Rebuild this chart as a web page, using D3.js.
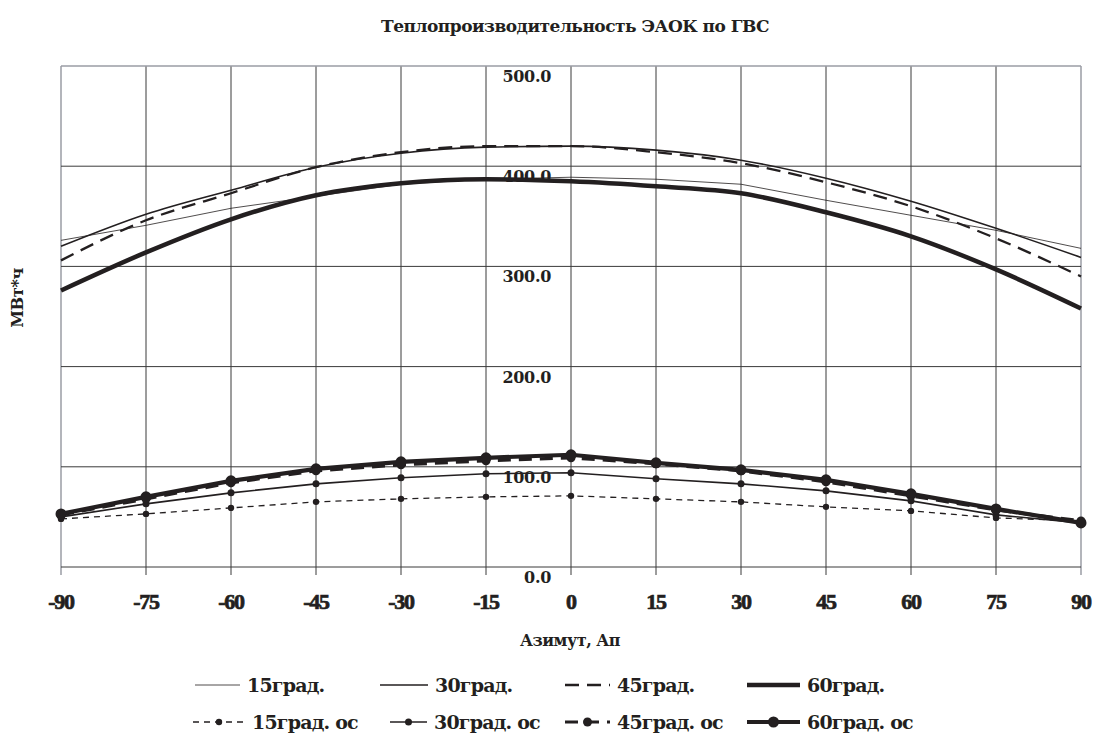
<!DOCTYPE html>
<html>
<head>
<meta charset="utf-8">
<script src="https://cdn.jsdelivr.net/npm/d3@7"></script>
<style>
  body { margin: 0; background: #fff; }
  text { font-family: "DejaVu Serif", "Liberation Serif", serif; font-weight: bold; fill: #231f20; }
  .xtick { font-family: "Liberation Serif", serif; stroke: #231f20; stroke-width: 0.7px; }
</style>
</head>
<body>
<svg width="1098" height="733"></svg>
<script>
// азимут
var azimuth = [-90, -75, -60, -45, -30, -15, 0, 15, 30, 45, 60, 75, 90];
var yTicks = [0, 100, 200, 300, 400, 500];

// теплопроизводительность, МВт*ч
var g15 = [326, 341, 358, 370, 382, 387, 389, 387, 382, 366, 351, 336, 318];
var g30 = [320, 352, 376, 399, 413, 419, 420, 416, 406, 388, 365, 338, 309];
var g45 = [306, 346, 373, 399, 414, 420, 420, 414, 403, 384, 360, 328, 290];
var g60 = [276, 314, 347, 371, 383, 387, 385, 380, 373, 354, 330, 297, 258];
var g15os = [48, 53, 59, 65, 68, 70, 71, 68, 65, 60, 56, 49, 46];
var g30os = [50, 63, 74, 83, 89, 93, 94, 88, 83, 76, 66, 52, 44];
var g45os = [52, 68, 84, 96, 102, 106, 109, 103, 96, 85, 71, 57, 46];
var g60os = [53, 70, 86, 98, 105, 109, 112, 104, 97, 87, 73, 58, 44];

var seriesNames = ["15град.", "30град.", "45град.", "60град.",
                   "15град. ос", "30град. ос", "45град. ос", "60град. ос"];

var svg = d3.select("svg");

var x = d3.scaleLinear().domain([-90, 90]).range([61, 1081]);
var y = d3.scaleLinear().domain([0, 500]).range([567, 66]);

// стили линий
var styles = [
  { values: g15, w: 0.8, dash: null, r: 0, curve: d3.curveLinear },
  { values: g30, w: 1.6, dash: null, r: 0, curve: d3.curveMonotoneX },
  { values: g45, w: 2.3, dash: "14,8", r: 0, curve: d3.curveMonotoneX },
  { values: g60, w: 4.5, dash: null, r: 0, curve: d3.curveMonotoneX },
  { values: g15os, w: 1.3, dash: "6,5", r: 3.2, curve: d3.curveLinear },
  { values: g30os, w: 1.6, dash: null, r: 3.5, curve: d3.curveLinear },
  { values: g45os, w: 3.2, dash: "13,8", r: 4.5, curve: d3.curveLinear },
  { values: g60os, w: 4.2, dash: null, r: 5.5, curve: d3.curveLinear }
];

// сетка
var grid = svg.append("g");
grid.selectAll("line.v").data(azimuth).enter().append("line")
  .attr("x1", d => x(d)).attr("x2", d => x(d))
  .attr("y1", y(500)).attr("y2", y(0) + 8)
  .attr("stroke", function (d) { return (d === -90 || d === 90) ? "#9a9ca4" : "#3a3a3a"; })
  .attr("stroke-width", function (d) { return (d === -90 || d === 90) ? 1.5 : 1; });
grid.selectAll("line.h").data(yTicks).enter().append("line")
  .attr("x1", x(-90)).attr("x2", x(90))
  .attr("y1", d => y(d)).attr("y2", d => y(d))
  .attr("stroke", function (d) { return d === 500 ? "#9a9ca4" : "#3a3a3a"; })
  .attr("stroke-width", function (d) { return d === 500 ? 1.5 : 1; });

// подписи оси Y (у нуля азимута)
svg.append("g").selectAll("text").data(yTicks).enter().append("text")
  .attr("x", x(0) - 20).attr("y", d => y(d) + 16)
  .attr("text-anchor", "end")
  .style("font-size", "16px")
  .style("letter-spacing", "-0.3px")
  .text(d => d.toFixed(1));

// подписи оси X
svg.append("g").selectAll("text").data(azimuth).enter().append("text")
  .attr("class", "xtick")
  .attr("x", d => x(d)).attr("y", 609)
  .attr("text-anchor", "middle")
  .style("font-size", "22px")
  .style("letter-spacing", "-1.2px")
  .text(d => d);

var line = d3.line();

var plot = svg.append("g");
styles.forEach(function (s) {
  var pts = azimuth.map((a, i) => [x(a), y(s.values[i])]);
  plot.append("path")
    .attr("d", line.curve(s.curve)(pts))
    .attr("fill", "none")
    .attr("stroke", "#231f20")
    .attr("stroke-width", s.w)
    .attr("stroke-dasharray", s.dash);
  if (s.r > 0) {
    plot.append("g").selectAll("circle").data(pts).enter().append("circle")
      .attr("cx", d => d[0]).attr("cy", d => d[1])
      .attr("r", s.r).attr("fill", "#231f20");
  }
});

// заголовки
svg.append("text").attr("x", 575).attr("y", 32)
  .attr("text-anchor", "middle").style("font-size", "17px")
  .style("letter-spacing", "-0.5px")
  .text("Теплопроизводительность ЭАОК по ГВС");

svg.append("text").attr("x", 570).attr("y", 646)
  .attr("text-anchor", "middle").style("font-size", "16px")
  .style("letter-spacing", "-0.5px")
  .text("Азимут, Ап");

svg.append("text")
  .attr("transform", "translate(23,298) rotate(-90)")
  .attr("text-anchor", "middle").style("font-size", "16px")
  .style("letter-spacing", "-0.3px")
  .text("МВт*ч");

// легенда
var legendPos = [
  [195, 685, 45], [380, 685, 48], [565, 685, 45], [747, 685, 53],
  [193, 722, 52], [390, 722, 37], [565, 722, 45], [747, 722, 53]
];
var legend = svg.append("g");
styles.forEach(function (s, i) {
  var lx = legendPos[i][0], ly = legendPos[i][1], lw = legendPos[i][2];
  legend.append("line")
    .attr("x1", lx).attr("x2", lx + lw).attr("y1", ly).attr("y2", ly)
    .attr("stroke", "#231f20").attr("stroke-width", s.w)
    .attr("stroke-dasharray", s.dash);
  if (s.r > 0) {
    legend.append("circle").attr("cx", lx + lw / 2).attr("cy", ly)
      .attr("r", s.r).attr("fill", "#231f20");
  }
  legend.append("text").attr("x", lx + lw + 7).attr("y", ly + 7)
    .style("font-size", "19px")
    .style("letter-spacing", "-0.8px")
    .text(seriesNames[i]);
});
</script>
</body>
</html>
